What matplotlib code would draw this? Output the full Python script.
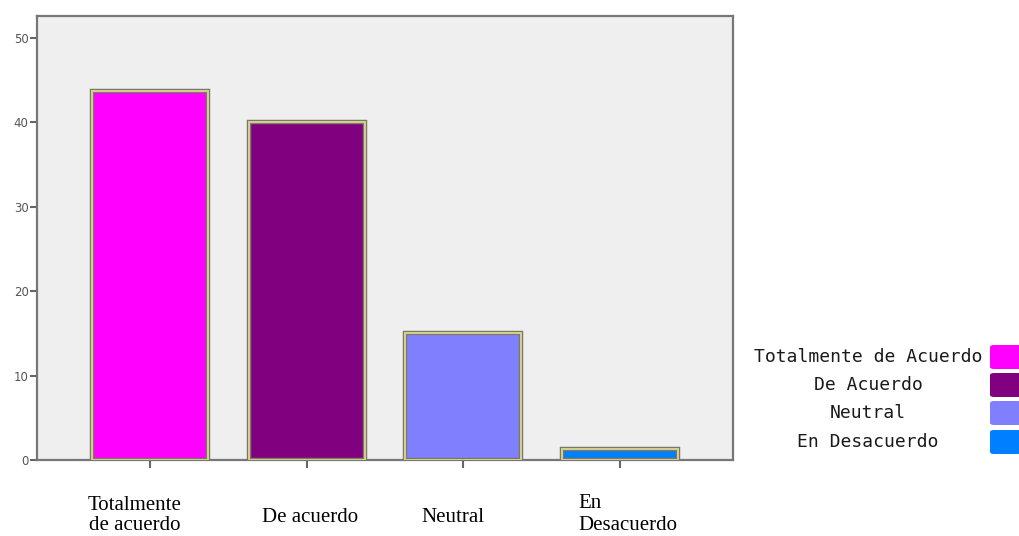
import matplotlib
matplotlib.use("Agg")
import matplotlib.pyplot as plt
from matplotlib.patches import FancyBboxPatch

# Response categories and their percentages
categories = ["Totalmente\nde acuerdo", "De acuerdo", "Neutral", "En\nDesacuerdo"]
legend_labels = ["Totalmente de Acuerdo", "De Acuerdo", "Neutral", "En Desacuerdo"]
values = [43.75, 40.0, 15.0, 1.25]
colors = ["#ff00ff", "#800080", "#8080ff", "#0080ff"]
yticks = [0, 10, 20, 30, 40, 50]

W, H = 1020, 536
fig = plt.figure(figsize=(W / 100, H / 100), dpi=100)
fig.patch.set_facecolor("white")

ax = fig.add_axes([37 / W, 1 - 460 / H, (733 - 37) / W, (460 - 16) / H])
ax.set_facecolor("#efefef")

x = list(range(len(values)))
# outer grey border, then inner khaki rim
ax.bar(x, values, width=0.74, color=colors, edgecolor="#7a7a6a", linewidth=3.2, zorder=2)
ax.bar(x, values, width=0.74, color="none", edgecolor="#d8d090", linewidth=1.4, zorder=3)

ax.set_xlim(-0.72, 3.72)
ax.set_ylim(0, 52.6)
ax.set_yticks(yticks)
ax.set_yticklabels([str(t) for t in yticks], color="#555555", fontsize=8.5)
ax.set_xticks(x)
ax.set_xticklabels([])
ax.tick_params(axis="y", length=5, width=1.5, color="#666666", pad=1)
ax.tick_params(axis="x", length=6, width=1.5, color="#666666", direction="out")
for s in ax.spines.values():
    s.set_color("#777777")
    s.set_linewidth(1.6)

# category labels below the axis, one text per line
serif = ["Liberation Serif", "DejaVu Serif"]
label_pos = [(135, [505, 526], "center"), (310, [517], "center"),
             (453, [517], "center"), (578, [504, 526], "left")]
for lab, (px, ys, ha) in zip(categories, label_pos):
    for line, py in zip(lab.split("\n"), ys):
        fig.text(px / W, 1 - py / H, line, ha=ha, va="center", fontsize=15,
                 family=serif)

# legend drawn on the right side
leg_y = [357, 385, 413, 442]
for lab, c, py in zip(legend_labels, colors, leg_y):
    fig.text(868 / W, 1 - py / H, lab, ha="center", va="center", fontsize=13,
             family=["DejaVu Sans Mono"], color="#1a1a1a")
    fig.patches.append(FancyBboxPatch((990 / W, 1 - (py + 12) / H), 32 / W, 24 / H,
                                      boxstyle="round,pad=0,rounding_size=0.004",
                                      transform=fig.transFigure, facecolor=c,
                                      edgecolor="none"))

fig.savefig("out.png", dpi=100)
